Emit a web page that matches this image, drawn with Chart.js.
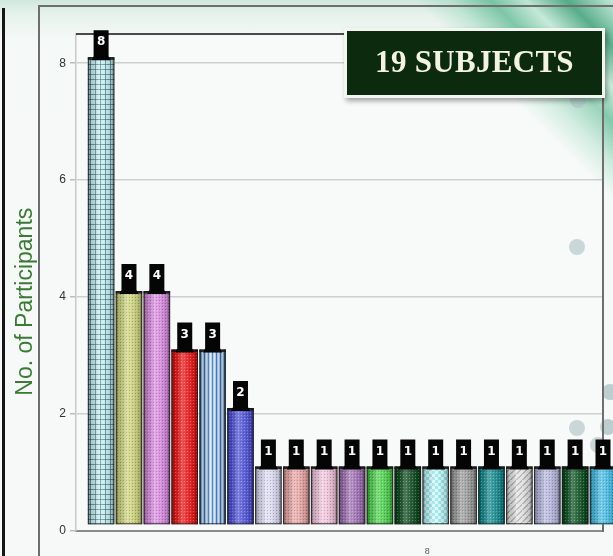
<!DOCTYPE html>
<html>
<head>
<meta charset="utf-8">
<script src="https://cdn.jsdelivr.net/npm/chart.js@4/dist/chart.umd.min.js"></script>
<style>
  html, body { margin: 0; padding: 0; width: 613px; height: 556px; overflow: hidden; }
  body {
    position: relative;
    background:
      linear-gradient(180deg, #d0e8dd 0px, #e6f2ec 14px, #f5f9f7 40px, #f7f9f8 100%);
  }
  #swoosh {
    position: absolute; left: 0; top: 0; width: 613px; height: 556px;
    background: linear-gradient(45deg,
      rgba(255,255,255,0) 0%, rgba(255,255,255,0) 83%,
      rgba(150,215,185,0.45) 86%, rgba(70,175,130,0.65) 89.5%,
      rgba(170,225,200,0.55) 92.5%, rgba(40,150,105,0.75) 96%,
      rgba(190,232,215,0.8) 100%);
  }
  .dot { position: absolute; width: 16px; height: 16px; border-radius: 50%; background: rgba(150,176,182,0.6); }
  #leftbar { position: absolute; left: 2px; top: 8px; width: 3px; height: 560px; background: #151515; }
  #frame { position: absolute; left: 38px; top: 5px; width: 620px; height: 580px; border: 2px solid #6e6e6e; box-sizing: border-box; }
  #wrap { position: absolute; left: 0; top: 0; width: 613px; height: 556px; }
  #titlebox {
    position: absolute; left: 344px; top: 28px; width: 261px; height: 70px; box-sizing: border-box;
    background: #0b2a0e; border: 3px solid #f3f6f0; box-shadow: 2px 3px 5px rgba(0,0,0,0.35);
    color: #f4f2e2; font: bold 31px "Liberation Serif", serif; text-align: center; line-height: 62px;
    letter-spacing: 0.3px;
  }
</style>
</head>
<body>
<div id="swoosh"></div>
<div class="dot" style="left:570px;top:92px"></div>
<div class="dot" style="left:569px;top:239px"></div>
<div class="dot" style="left:602px;top:384px"></div>
<div class="dot" style="left:569px;top:420px"></div>
<div class="dot" style="left:600px;top:419px"></div>
<div class="dot" style="left:590px;top:437px"></div>
<div id="leftbar"></div>
<div id="frame"></div>
<div id="wrap"><canvas id="c"></canvas></div>
<div id="titlebox">19 SUBJECTS</div>
<script>
// ---------- data ----------
const categories = ['Subject 1','Subject 2','Subject 3','Subject 4','Subject 5','Subject 6','Subject 7',
  'Subject 8','Subject 9','Subject 10','Subject 11','Subject 12','Subject 13','Subject 14',
  'Subject 15','Subject 16','Subject 17','Subject 18','Subject 19'];
const participants = [8, 4, 4, 3, 3, 2, 1, 1, 1, 1, 1, 1, 1, 1, 1, 1, 1, 1, 1];
const yTickValues = [0, 2, 4, 6, 8];
const yAxisTitle = 'No. of Participants';
const xAxisNote = '8';

// ---------- styles ----------
const barColors = ['#c4eef0','#cdd47c','#d98ae0','#ee1515','#9cc4ea','#4f52d8','#dcdaf2',
  '#e8a4a4','#f2c4dc','#a070b4','#4ed24e','#0c4a1e','#8ee4e8','#9a9a9a','#128a8e',
  '#e2e2e2','#b4b4dc','#0c5222','#44bce4'];
const barKinds = ['grid','dots','dots','dots','vstripe','dots','dots','dots','dots','dots',
  'dots','dots','check','dots','dots','diag','dots','dots','dots'];

function makePattern(base, kind) {
  const s = kind === 'grid' ? 5 : kind === 'vstripe' ? 4 : kind === 'diag' ? 6 : kind === 'check' ? 6 : 3;
  const c = document.createElement('canvas');
  c.width = s; c.height = s;
  const g = c.getContext('2d');
  g.fillStyle = base; g.fillRect(0, 0, s, s);
  if (kind === 'grid') {
    g.fillStyle = 'rgba(40,85,95,0.6)'; g.fillRect(0, 0, s, 1); g.fillRect(0, 0, 1, s);
  } else if (kind === 'vstripe') {
    g.fillStyle = 'rgba(25,70,140,0.75)'; g.fillRect(0, 0, 1, s);
    g.fillStyle = 'rgba(255,255,255,0.55)'; g.fillRect(2, 0, 1, s);
  } else if (kind === 'diag') {
    g.fillStyle = 'rgba(110,110,110,0.45)';
    for (let i = 0; i < s; i++) g.fillRect(i, s - 1 - i, 2, 1);
  } else if (kind === 'check') {
    g.fillStyle = 'rgba(255,255,255,0.65)'; g.fillRect(0, 0, 3, 3); g.fillRect(3, 3, 3, 3);
  } else {
    g.fillStyle = 'rgba(0,0,0,0.25)'; g.fillRect(0, 0, 1, 1);
    g.fillStyle = 'rgba(255,255,255,0.3)'; g.fillRect(1, 1, 1, 1);
  }
  return g.createPattern(c, 'repeat');
}
const barFills = barColors.map((c, i) => makePattern(c, barKinds[i]));

const LIFT = 6; // 3D floor lift of the bars

const cylinderPlugin = {
  id: 'cylinder',
  beforeDatasetsDraw(chart) {
    const { ctx, chartArea: a } = chart;
    // plot frame lines (behind the bars)
    ctx.save();
    ctx.strokeStyle = '#111';
    ctx.lineWidth = 1.5;
    ctx.beginPath(); ctx.moveTo(a.left, a.top); ctx.lineTo(a.right, a.top); ctx.stroke();
    ctx.strokeStyle = '#6e6e6e';
    ctx.lineWidth = 2;
    ctx.beginPath(); ctx.moveTo(a.right, a.top); ctx.lineTo(a.right, a.bottom + 1); ctx.stroke();
    ctx.restore();
    ctx.save();
    ctx.translate(0, -LIFT);
  },
  afterDatasetsDraw(chart) {
    const ctx = chart.ctx;
    const meta = chart.getDatasetMeta(0);
    meta.data.forEach((el, i) => {
      const w = el.width, l = el.x - w / 2, top = el.y, h = el.base - el.y;
      const gr = ctx.createLinearGradient(l, 0, l + w, 0);
      gr.addColorStop(0, 'rgba(0,0,0,0.5)');
      gr.addColorStop(0.12, 'rgba(0,0,0,0.15)');
      gr.addColorStop(0.4, 'rgba(255,255,255,0.28)');
      gr.addColorStop(0.6, 'rgba(255,255,255,0.12)');
      gr.addColorStop(0.88, 'rgba(0,0,0,0.15)');
      gr.addColorStop(1, 'rgba(0,0,0,0.5)');
      ctx.fillStyle = gr;
      ctx.fillRect(l, top, w, h);
      ctx.strokeStyle = 'rgba(30,30,30,0.85)';
      ctx.lineWidth = 1;
      ctx.strokeRect(l + 0.5, top + 0.5, w - 1, h - 1);
      ctx.fillStyle = 'rgba(20,20,20,0.85)';
      ctx.fillRect(l, top, w, 2.5);
    });
    // value tags
    meta.data.forEach((el, i) => {
      const txt = String(participants[i]);
      const bw = 15, top = el.y - 27, bottom = el.y + 3;
      ctx.fillStyle = '#050505';
      ctx.beginPath();
      ctx.moveTo(el.x - bw / 2, top);
      ctx.lineTo(el.x + bw / 2, top);
      ctx.lineTo(el.x + bw / 2, bottom - 4);
      ctx.lineTo(el.x + bw / 2 + 2, bottom);
      ctx.lineTo(el.x - bw / 2 - 2, bottom);
      ctx.lineTo(el.x - bw / 2, bottom - 4);
      ctx.closePath();
      ctx.fill();
      ctx.fillStyle = '#ffffff';
      ctx.font = 'bold 12px "DejaVu Sans", "Liberation Sans", Arial, sans-serif';
      ctx.textAlign = 'center';
      ctx.textBaseline = 'middle';
      ctx.fillText(txt, el.x, el.y - 15);
    });
    ctx.restore();
  },
  beforeDraw(chart) {
    const { ctx, chartArea: a } = chart;
    ctx.save();
    ctx.fillStyle = 'rgba(255,255,255,0.2)';
    ctx.fillRect(a.left, a.top, a.right - a.left, a.bottom - a.top);
    ctx.restore();
  }
};

new Chart(document.getElementById('c'), {
  type: 'bar',
  data: {
    labels: categories,
    datasets: [{
      label: yAxisTitle,
      data: participants.map((v, i) => ({ x: i, y: v })),
      backgroundColor: barFills,
      borderWidth: 0,
      barPercentage: 1,
      categoryPercentage: 0.95,
      clip: false
    }]
  },
  options: {
    responsive: true,
    maintainAspectRatio: false,
    animation: false,
    layout: { padding: { top: 34, right: 10, left: 0, bottom: 0 } },
    plugins: { legend: { display: false }, tooltip: { enabled: false } },
    scales: {
      x: {
        type: 'linear',
        offset: false,
        min: -0.9,
        max: 18,
        grid: { display: false, offset: false },
        border: { display: true, color: '#8a8a8a', width: 2 },
        afterBuildTicks: (s) => { s.ticks = [{ value: 11.7 }]; },
        ticks: {
          callback: () => xAxisNote,
          color: '#555', font: { size: 9, family: '"Liberation Sans", Arial' },
          padding: 7, maxRotation: 0, autoSkip: false
        },
        afterFit: (s) => { s.height = 25; }
      },
      y: {
        min: 0,
        max: 8.5,
        afterBuildTicks: (s) => { s.ticks = yTickValues.map(v => ({ value: v })); },
        ticks: {
          color: '#333', font: { size: 12, family: '"Liberation Sans", Arial' }, padding: 4
        },
        grid: { color: '#cfcfcf', lineWidth: 1.5, tickLength: 6, tickColor: '#bdbdbd' },
        border: { display: true, color: '#c8c8c8', width: 1.5 },
        title: {
          display: true, text: yAxisTitle + '      ', color: '#3a7a35',
          font: { size: 23, family: '"Liberation Sans", Arial' }, padding: { top: 12, bottom: 0 }
        },
        afterFit: (s) => { s.width = 76; }
      }
    }
  },
  plugins: [cylinderPlugin]
});
</script>
</body>
</html>
